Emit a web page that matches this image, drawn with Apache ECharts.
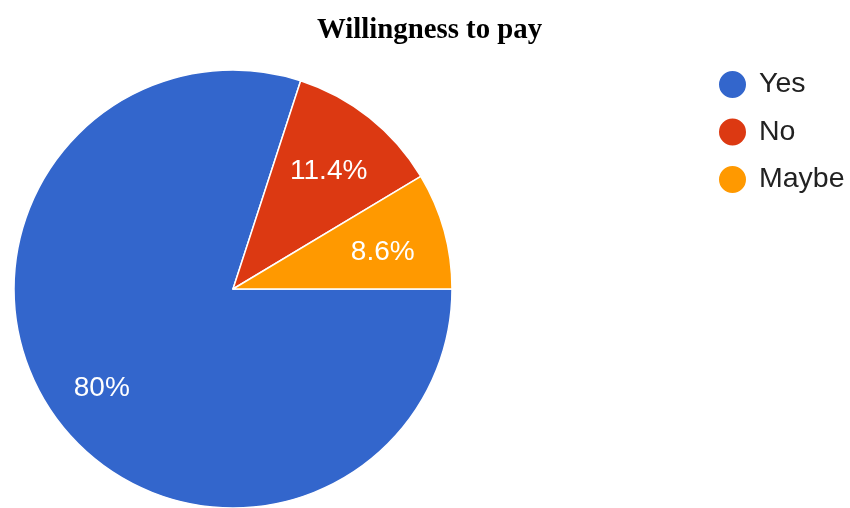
<!DOCTYPE html>
<html>
<head>
<meta charset="utf-8">
<script src="https://cdn.jsdelivr.net/npm/echarts@6/dist/echarts.min.js"></script>
<style>
  html, body { margin: 0; padding: 0; background: #ffffff; }
  #chart { width: 850px; height: 508px; }
</style>
</head>
<body>
<div id="chart"></div>
<script>
// Survey answers and their shares (percent)
const categories = ['Yes', 'No', 'Maybe'];
const shares = [80, 11.4, 8.6];
const colors = ['#3366cc', '#dc3912', '#ff9900'];

const pieData = categories.map((name, i) => ({
  name: name,
  value: shares[i],
  itemStyle: { color: colors[i] }
}));

const fontSans = '"Liberation Sans", Arial, Helvetica, sans-serif';
const center = [233, 289];
const radius = 219;

const chart = echarts.init(document.getElementById('chart'), null, { renderer: 'canvas' });

chart.setOption({
  animation: false,
  backgroundColor: '#ffffff',
  title: {
    text: 'Willingness to pay',
    left: 312,
    top: 11,
    textStyle: {
      fontFamily: '"Liberation Serif", "Times New Roman", serif',
      fontWeight: 'bold',
      fontSize: 28.8,
      color: '#000000'
    }
  },
  legend: {
    orient: 'vertical',
    left: 712,
    top: 64,
    icon: 'circle',
    itemWidth: 29,
    itemHeight: 29,
    itemGap: 16.5,
    data: categories,
    textStyle: {
      fontFamily: fontSans,
      fontSize: 28.5,
      lineHeight: 29,
      color: '#222222',
      padding: [0, 0, 0, 7]
    }
  },
  series: [
    {
      // the slices themselves
      name: 'Willingness to pay',
      type: 'pie',
      center: center,
      radius: radius,
      startAngle: 0,
      clockwise: true,
      avoidLabelOverlap: false,
      label: { show: false },
      labelLine: { show: false },
      itemStyle: { borderColor: '#ffffff', borderWidth: 1.5 },
      emphasis: { disabled: true },
      data: pieData
    },
    {
      // transparent ring carrying the percentage labels at ~0.7 of the radius
      name: 'labels',
      type: 'pie',
      center: center,
      radius: [radius * 0.42, radius],
      startAngle: 0,
      clockwise: true,
      silent: true,
      legendHoverLink: false,
      avoidLabelOverlap: false,
      itemStyle: { color: 'rgba(0,0,0,0)' },
      label: {
        show: true,
        position: 'inside',
        offset: [-3, 6],
        fontFamily: fontSans,
        fontSize: 28,
        color: '#ffffff',
        formatter: p => p.value + '%'
      },
      labelLine: { show: false },
      emphasis: { disabled: true },
      data: categories.map((name, i) => ({ name: name, value: shares[i] }))
    }
  ]
});
</script>
</body>
</html>
